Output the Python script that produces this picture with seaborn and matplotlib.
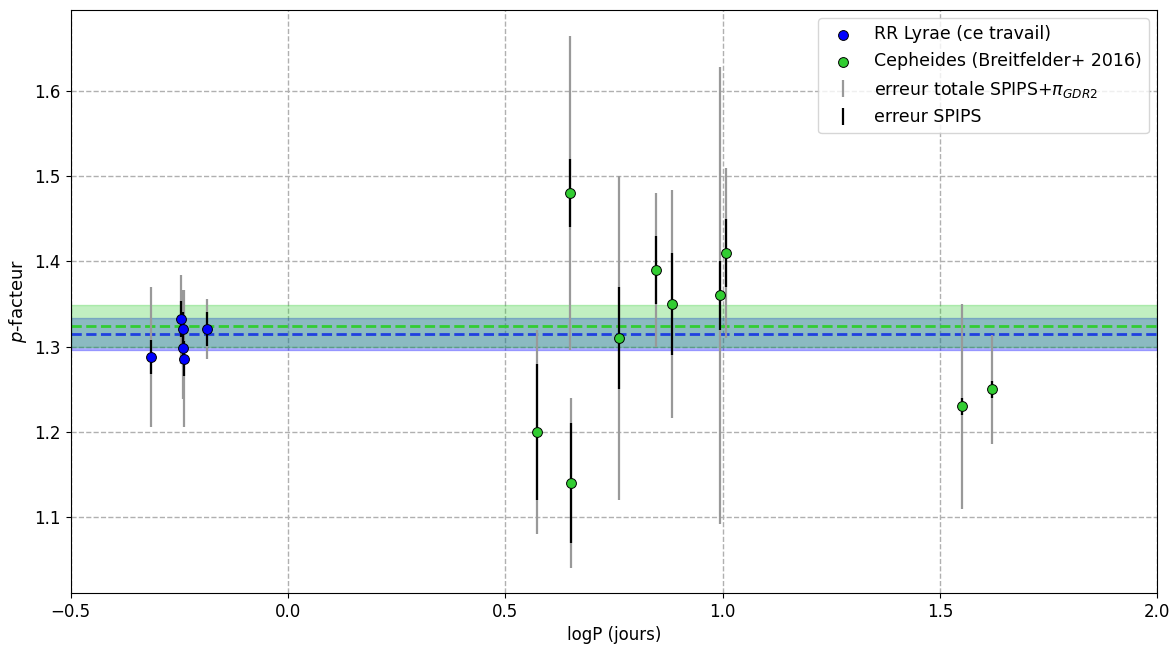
import numpy as np
import pandas as pd
import seaborn as sns
import matplotlib
matplotlib.use("Agg")
import matplotlib.pyplot as plt

# RR Lyrae (ce travail)
rr_logp = [-0.316, -0.245, -0.241, -0.242, -0.240, -0.185]
rr_p = [1.288, 1.332, 1.321, 1.298, 1.286, 1.321]
rr_err_spips = [0.020, 0.021, 0.020, 0.015, 0.020, 0.020]
rr_err_tot = [0.082, 0.052, 0.045, 0.060, 0.080, 0.035]

# Cepheides (Breitfelder+ 2016)
cep_logp = [0.573, 0.649, 0.651, 0.762, 0.847, 0.883, 0.995, 1.009, 1.552, 1.619]
cep_p = [1.20, 1.48, 1.14, 1.31, 1.39, 1.35, 1.36, 1.41, 1.23, 1.25]
cep_err_spips = [0.08, 0.04, 0.07, 0.06, 0.04, 0.06, 0.04, 0.04, 0.01, 0.01]
cep_err_tot = [0.12, 0.184, 0.10, 0.19, 0.09, 0.134, 0.268, 0.10, 0.12, 0.064]

# moyennes ponderees
rr_mean, rr_sig = 1.315, 0.019
cep_mean, cep_sig = 1.324, 0.025

df_rr = pd.DataFrame({"logP": rr_logp, "p": rr_p})
df_cep = pd.DataFrame({"logP": cep_logp, "p": cep_p})

sns.set_style("ticks", {"text.color": "black", "axes.labelcolor": "black",
                        "xtick.color": "black", "ytick.color": "black",
                        "axes.edgecolor": "black"})
fig, ax = plt.subplots(figsize=(11.76, 6.52), dpi=100)
fig.subplots_adjust(left=0.060, right=0.984, top=0.985, bottom=0.0905)

ax.axhspan(rr_mean - rr_sig, rr_mean + rr_sig, color="blue", alpha=0.3, lw=1, zorder=1)
ax.axhspan(cep_mean - cep_sig, cep_mean + cep_sig, color="limegreen", alpha=0.3, lw=1, zorder=1)
ax.axhline(cep_mean, color="limegreen", ls="--", lw=2, zorder=2)
ax.axhline(rr_mean, color="#2040e0", ls="--", lw=2, zorder=2)

logp_all = rr_logp + cep_logp
p_all = rr_p + cep_p
ax.errorbar(logp_all, p_all, yerr=rr_err_tot + cep_err_tot, fmt="none",
            ecolor="#999999", elinewidth=1.6, capsize=0, zorder=3,
            label="erreur totale SPIPS+$\\pi_{GDR2}$")
ax.errorbar(logp_all, p_all, yerr=rr_err_spips + cep_err_spips, fmt="none",
            ecolor="black", elinewidth=1.6, capsize=0, zorder=4,
            label="erreur SPIPS")

sns.scatterplot(data=df_rr, x="logP", y="p", color="blue", edgecolor="black",
                linewidth=0.7, s=50, zorder=5, ax=ax, label="RR Lyrae (ce travail)")
sns.scatterplot(data=df_cep, x="logP", y="p", color="limegreen", edgecolor="black",
                linewidth=0.7, s=50, zorder=5, ax=ax, label="Cepheides (Breitfelder+ 2016)")

ax.set_xlim(-0.5, 2.0)
ax.set_ylim(1.011, 1.695)
ax.set_xticks([-0.5, 0.0, 0.5, 1.0, 1.5, 2.0])
ax.set_yticks([1.1, 1.2, 1.3, 1.4, 1.5, 1.6])
ax.grid(True, ls="--", color="#b0b0b0", lw=1)
ax.set_axisbelow(True)
for s in ax.spines.values():
    s.set_visible(True)
    s.set_color("black")
ax.tick_params(labelsize=12)
ax.set_xlabel("logP (jours)", fontsize=12)
ax.set_ylabel("$p$-facteur", fontsize=13)

h, l = ax.get_legend_handles_labels()
order = [l.index("RR Lyrae (ce travail)"), l.index("Cepheides (Breitfelder+ 2016)"),
         l.index("erreur totale SPIPS+$\\pi_{GDR2}$"), l.index("erreur SPIPS")]
ax.legend([h[i] for i in order], [l[i] for i in order], loc="upper right",
          fontsize=12.5, frameon=True, framealpha=0.8)

fig.savefig("out.png", dpi=100)
